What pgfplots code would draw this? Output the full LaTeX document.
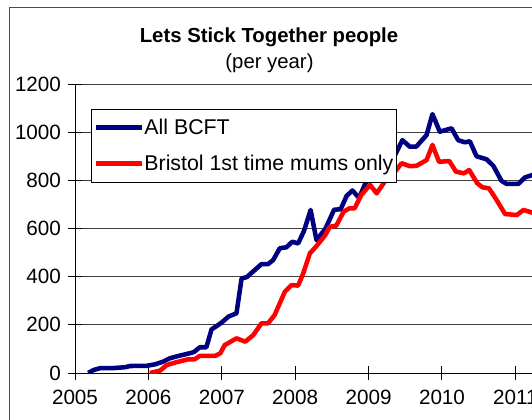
\documentclass[border=0pt]{standalone}
\usepackage{pgfplots}
\pgfplotsset{compat=1.18}
\usepackage{fontspec}
\setmainfont{Liberation Sans}

\definecolor{bcftblue}{RGB}{0,0,128}
\definecolor{mumsred}{RGB}{255,0,0}

\begin{document}
\begin{tikzpicture}[x=0.75pt,y=0.75pt]
\path[use as bounding box] (0,0) rectangle (532,419);
\clip (0,0) rectangle (532,419);
% chart frame (Excel chart area)
\draw[black!70, line width=0.75pt] (9,-20) rectangle (620,412);

\node[anchor=base, font=\bfseries\fontsize{15.25}{18}\selectfont] at (269,376.3) {Lets Stick Together people};
\node[anchor=base, font=\fontsize{15.25}{18}\selectfont] at (269.5,351) {(per year)};

\begin{axis}[
at={(56.25pt,34.5pt)}, anchor=south west,
scale only axis,
width=385.35pt, height=216.75pt,
xmin=2005, xmax=2012,
ymin=0, ymax=1200,
xtick={2005,2006,...,2012},
ytick={0,200,...,1200},
axis lines*=left,
axis line style={black, line width=0.75pt},
ymajorgrids=true,
grid style={black!75, line width=0.75pt},
tick align=center,
major tick length=10pt,
tick style={black, line width=0.75pt},
/pgf/number format/assume math mode=true,
/pgf/number format/1000 sep={},
ticklabel style={font=\fontsize{15.5}{18}\selectfont},
yticklabel style={xshift=-2pt},
xticklabel style={yshift=-4pt},
clip=true,
legend style={
  at={(0.0306,0.914)}, anchor=north west,
  draw=black, line width=0.75pt, fill=white,
  font=\fontsize{16}{19}\selectfont,
  inner xsep=2pt, inner ysep=4.5pt,
  row sep=8.5pt,
  nodes={inner sep=0pt, text height=14.5pt, text depth=4pt},
  /tikz/every even column/.append style={column sep=0pt},
},
legend cell align=left,
legend image code/.code={\draw[#1] (0pt,0pt) -- (32pt,0pt); \path (0pt,0pt) -- (34.5pt,0pt);},
]

\addplot[color=bcftblue, line width=3.4pt, line join=round] coordinates {
(2005.18,0)(2005.25,12)(2005.34,20)(2005.50,20)(2005.68,24)(2005.75,29)(2005.98,30)
(2006.09,36)(2006.20,47)(2006.29,61)(2006.41,71)(2006.59,84)(2006.63,89)(2006.70,107)
(2006.79,107)(2006.86,181)(2006.93,195)(2007.00,210)(2007.09,234)(2007.20,248)
(2007.27,393)(2007.34,398)(2007.41,417)(2007.54,452)(2007.63,452)(2007.70,469)
(2007.79,518)(2007.88,522)(2007.96,545)(2008.04,538)(2008.12,590)(2008.21,677)
(2008.29,552)(2008.41,598)(2008.53,678)(2008.62,680)(2008.70,735)(2008.78,758)
(2008.87,727)(2008.96,790)(2009.04,819)(2009.12,840)(2009.21,870)(2009.29,890)
(2009.36,905)(2009.46,967)(2009.56,940)(2009.65,940)(2009.79,988)(2009.87,1075)
(2009.97,1002)(2010.13,1016)(2010.22,967)(2010.31,958)(2010.38,962)(2010.47,900)
(2010.61,887)(2010.70,860)(2010.81,798)(2010.88,785)(2011.04,785)(2011.13,812)
(2011.23,822)(2011.30,825)
};
\addlegendentry{All BCFT}

\addplot[color=mumsred, line width=3.4pt, line join=round] coordinates {
(2006.02,0)(2006.16,10)(2006.25,33)(2006.36,43)(2006.54,57)(2006.63,57)(2006.70,71)
(2006.91,71)(2006.98,82)(2007.04,116)(2007.20,144)(2007.32,130)(2007.43,158)
(2007.54,206)(2007.63,206)(2007.72,241)(2007.86,338)(2007.95,365)(2008.04,363)
(2008.11,414)(2008.20,497)(2008.29,527)(2008.41,573)(2008.47,607)(2008.56,612)
(2008.66,670)(2008.74,684)(2008.81,684)(2008.90,739)(2009.02,781)(2009.11,746)
(2009.25,808)(2009.36,836)(2009.45,871)(2009.56,859)(2009.65,860)(2009.79,884)
(2009.87,947)(2009.96,877)(2010.10,880)(2010.19,836)(2010.30,829)(2010.37,843)
(2010.48,788)(2010.55,771)(2010.64,767)(2010.73,725)(2010.86,660)(2011.02,656)
(2011.11,677)(2011.23,666)(2011.30,668)
};
\addlegendentry{Bristol 1st time mums only}

\end{axis}
\end{tikzpicture}
\end{document}
